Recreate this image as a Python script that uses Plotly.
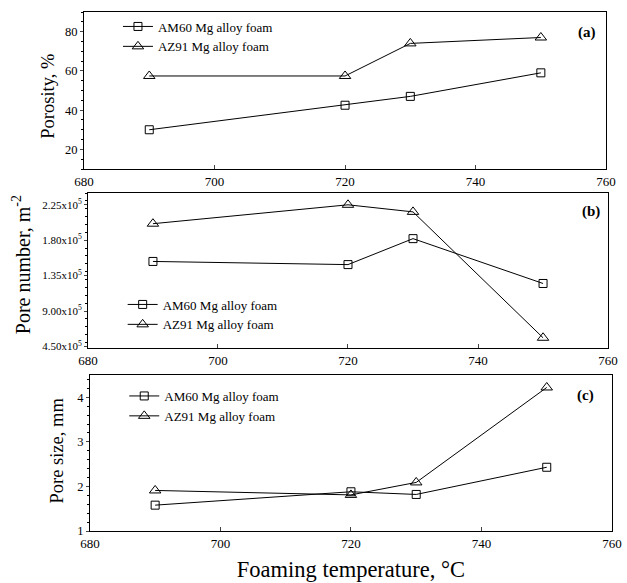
import plotly.graph_objects as go

temps = [690, 720, 730, 750]
series_names = ["AM60 Mg alloy foam", "AZ91 Mg alloy foam"]

porosity_am60 = [30, 42.5, 47, 59]
porosity_az91 = [57.4, 57.4, 74, 77]

pore_number_am60 = [1.53, 1.49, 1.82, 1.25]   # x10^5 m^-2
pore_number_az91 = [2.01, 2.25, 2.16, 0.56]

pore_size_am60 = [1.58, 1.88, 1.82, 2.43]
pore_size_az91 = [1.91, 1.81, 2.09, 4.22]

x_ticks = [680, 700, 720, 740, 760]
porosity_ticks = [20, 40, 60, 80]
pn_tickvals = [0.45, 0.90, 1.35, 1.80, 2.25]
pn_ticktext = ["4.50x10<sup>5</sup>", "9.00x10<sup>5</sup>", "1.35x10<sup>5</sup>",
               "1.80x10<sup>5</sup>", "2.25x10<sup>5</sup>"]
size_ticks = [1, 2, 3, 4]

FONT = "Liberation Serif, Times New Roman, serif"
fig = go.Figure()

panels = [
    (porosity_am60, porosity_az91, "x", "y", "legend"),
    (pore_number_am60, pore_number_az91, "x2", "y2", "legend2"),
    (pore_size_am60, pore_size_az91, "x3", "y3", "legend3"),
]
for am, az, xa, ya, lg in panels:
    fig.add_trace(go.Scatter(x=temps, y=am, mode="lines+markers", name=series_names[0],
                             xaxis=xa, yaxis=ya, legend=lg,
                             line=dict(color="black", width=1),
                             marker=dict(symbol="square-open", size=8, color="black",
                                         line=dict(width=1))))
    fig.add_trace(go.Scatter(x=temps, y=az, mode="lines+markers", name=series_names[1],
                             xaxis=xa, yaxis=ya, legend=lg,
                             line=dict(color="black", width=1),
                             marker=dict(symbol="triangle-up-open", size=10, color="black",
                                         line=dict(width=1))))

W, H = 627, 583
L, R = 84, 622      # paper left / right in pixels
H0, H1 = 12, 531    # paper top / bottom in pixels
def dom(top, bot):
    return [(H1 - bot) / (H1 - H0), (H1 - top) / (H1 - H0)]
def py(y):
    return (H1 - y) / (H1 - H0)
def px(x):
    return (x - L) / (R - L)

xcommon = dict(range=[680, 760], tickvals=x_ticks, ticks="inside", ticklen=4,
               showline=True, linecolor="black", linewidth=1, mirror=True,
               showgrid=False, zeroline=False, ticklabeloverflow="allow",
               tickfont=dict(family=FONT, size=13, color="black"))
ycommon = dict(ticks="outside", ticklen=3, showline=True, linecolor="black",
               linewidth=1, mirror=True, showgrid=False, zeroline=False,
               minor=dict(ticks="outside", ticklen=2, tickcolor="black"))

fig.update_layout(
    width=W, height=H,
    margin=dict(l=L, r=W - R, t=H0, b=H - H1),
    paper_bgcolor="white", plot_bgcolor="white",
    font=dict(family=FONT, color="black"),
    xaxis=dict(**xcommon, domain=[px(84), px(616)], anchor="y"),
    xaxis2=dict(**xcommon, domain=[px(88), px(618)], anchor="y2"),
    xaxis3=dict(**xcommon, domain=[px(90), px(622)], anchor="y3",
                title=dict(text="Foaming temperature, °C",
                           font=dict(family=FONT, size=22.5), standoff=11)),
    yaxis=dict(**ycommon, domain=dom(12, 169), range=[10, 90], tickvals=porosity_ticks,
               anchor="x", tickfont=dict(family=FONT, size=12.5)),
    yaxis2=dict(**ycommon, domain=dom(193, 348), range=[0.43, 2.40], tickvals=pn_tickvals,
                ticktext=pn_ticktext, anchor="x2", tickfont=dict(family=FONT, size=11)),
    yaxis3=dict(**ycommon, domain=dom(375, 531), range=[1, 4.5], tickvals=size_ticks,
                anchor="x3", tickfont=dict(family=FONT, size=12.5)),
    legend=dict(x=px(118.6), y=py(11.5), xanchor="left", yanchor="top",
                bgcolor="rgba(0,0,0,0)", font=dict(family=FONT, size=13)),
    legend2=dict(x=px(123.4), y=py(289.5), xanchor="left", yanchor="top",
                 bgcolor="rgba(0,0,0,0)", font=dict(family=FONT, size=13)),
    legend3=dict(x=px(125), y=py(381), xanchor="left", yanchor="top",
                 bgcolor="rgba(0,0,0,0)", font=dict(family=FONT, size=13)),
    showlegend=True,
)

# y-axis titles
ytitles = [("Porosity, %", 47, 96, 18.5),
           ("Pore number, m<sup>-2</sup>", 20, 265, 20),
           ("Pore size, mm", 56, 451, 18.5)]
for txt, xx, yy, sz in ytitles:
    fig.add_annotation(text=txt, xref="paper", yref="paper", x=px(xx), y=py(yy),
                       xanchor="center", yanchor="middle", textangle=-90, showarrow=False,
                       font=dict(family=FONT, size=sz, color="black"))

labels = [("(a)", 608, 32), ("(b)", 612, 212), ("(c)", 606, 395)]
for txt, xx, yy in labels:
    fig.add_annotation(text="<b>" + txt + "</b>", xref="paper", yref="paper",
                       x=px(xx), y=py(yy), xanchor="right", yanchor="middle", showarrow=False,
                       font=dict(family=FONT, size=15, color="black"))

fig.write_html("out.html", config={"displayModeBar": False},
               post_script="document.body.style.margin='0';document.body.style.overflow='hidden';")
